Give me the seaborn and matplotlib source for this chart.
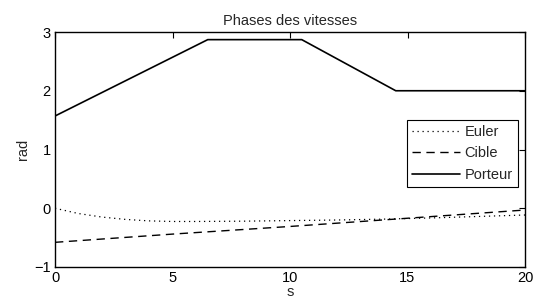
import numpy as np
import pandas as pd
import matplotlib
matplotlib.use("Agg")
import matplotlib.pyplot as plt
import seaborn as sns

# Data
porteur_t = [0, 6.5, 10.5, 14.5, 20]
porteur_v = [1.57, 2.87, 2.87, 2.0, 2.0]

euler_t = [0, 1, 2, 3, 4, 5, 6, 8, 10, 12, 14, 16, 18, 20]
euler_v = [0.0, -0.09, -0.15, -0.19, -0.215, -0.225, -0.225, -0.22, -0.21, -0.2, -0.185, -0.165, -0.14, -0.115]

cible_t = [0, 5, 10, 15, 20]
cible_v = [-0.58, -0.44, -0.31, -0.17, -0.03]

xticks = [0, 5, 10, 15, 20]
yticks = [-1, 0, 1, 2, 3]

sns.set_theme(style="white")
plt.rcParams['font.family'] = ['Liberation Sans', 'DejaVu Sans']
plt.rcParams['axes.unicode_minus'] = True

fig = plt.figure(figsize=(5.39, 3.04), dpi=100)
ax = fig.add_axes([55/539, 1-267/304, 470/539, 235/304])

df_e = pd.DataFrame({"t": euler_t, "v": euler_v})
df_c = pd.DataFrame({"t": cible_t, "v": cible_v})
df_p = pd.DataFrame({"t": porteur_t, "v": porteur_v})

sns.lineplot(data=df_e, x="t", y="v", ax=ax, color="black", lw=0.9,
             linestyle=(0, (1, 3)), label="Euler")
sns.lineplot(data=df_c, x="t", y="v", ax=ax, color="black", lw=1.0,
             linestyle=(0, (6, 4)), label="Cible")
sns.lineplot(data=df_p, x="t", y="v", ax=ax, color="black", lw=1.2,
             linestyle="-", label="Porteur")

fs = 10.5
ax.set_xlim(0, 20)
ax.set_ylim(-1, 3)
ax.set_xticks(xticks)
ax.set_yticks(yticks)
ax.tick_params(direction="in", top=True, right=True, length=4, width=0.8,
               labelsize=fs, colors="black", pad=3)
for s in ax.spines.values():
    s.set_color("black")
    s.set_linewidth(1.0)
ax.set_xlabel("s", fontsize=fs, labelpad=0)
ax.set_ylabel("rad", fontsize=fs, labelpad=3)
ax.set_title("Phases des vitesses", fontsize=fs, pad=5)

leg = ax.legend(loc="center right", bbox_to_anchor=(0.985, 0.483),
                fontsize=fs, frameon=True, fancybox=False, framealpha=1,
                edgecolor="black", handlelength=3.3, handletextpad=0.3,
                borderpad=0.35, labelspacing=0.5, borderaxespad=0)
leg.get_frame().set_linewidth(0.8)

fig.savefig("out.png", dpi=100)
